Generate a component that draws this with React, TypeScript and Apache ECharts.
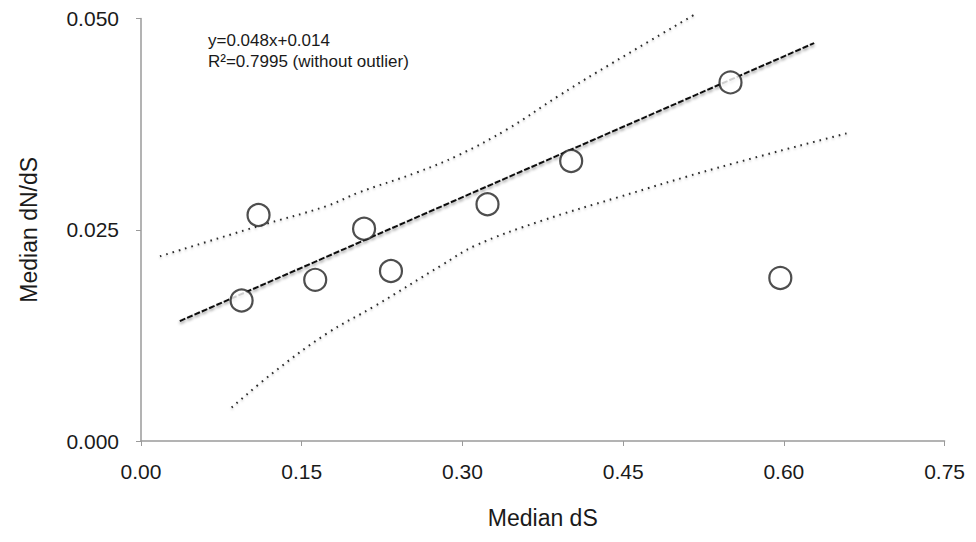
import React, { useEffect, useRef } from "react";
import * as echarts from "echarts";

// Observed points: median dS vs median dN/dS
const medianDS = [0.0939, 0.1097, 0.1626, 0.2082, 0.2333, 0.3234, 0.4015, 0.5502, 0.5967];
const medianDNDS = [0.01663, 0.02674, 0.01907, 0.02512, 0.02012, 0.02802, 0.03314, 0.04244, 0.0193];

// Regression line end points (as drawn)
const fitX = [0.0362, 0.6283];
const fitY = [0.01419, 0.04709];

// Upper confidence band
const upperX = [0.0177, 0.1106, 0.1729, 0.2035, 0.2565, 0.2965, 0.3429, 0.3894, 0.4266, 0.5167];
const upperY = [0.02186, 0.02547, 0.02779, 0.02942, 0.03174, 0.03384, 0.03698, 0.04081, 0.04372, 0.05047];

// Lower confidence band
const lowerX = [0.0846, 0.1227, 0.1729, 0.2193, 0.2807, 0.3123, 0.3736, 0.4452, 0.5381, 0.6617];
const lowerY = [0.00395, 0.00802, 0.01267, 0.01605, 0.02081, 0.02314, 0.02605, 0.02884, 0.03233, 0.03651];

const xTicks = { min: 0, max: 0.75, interval: 0.15 };
const yTicks = { min: 0, max: 0.05, interval: 0.025 };

const equationText = "y=0.048x+0.014";
const r2Text = "R²=0.7995 (without outlier)";

const zip = (xs: number[], ys: number[]) => xs.map((x, i) => [x, ys[i]]);

export default function App() {
  const ref = useRef<HTMLDivElement>(null);
  useEffect(() => {
    if (!ref.current) return;
    const chart = echarts.init(ref.current, undefined, { renderer: "svg" });
    const font = "'Liberation Sans', Arial, Helvetica, sans-serif";
    const axisLine = { show: true, lineStyle: { color: "#9a9a9a", width: 1.5 } };
    const bandStyle = {
      color: "#2a2a2a",
      width: 2,
      type: [1.6, 5],
      shadowColor: "rgba(0,0,0,0.25)",
      shadowBlur: 2,
      shadowOffsetY: 1.5,
    };
    chart.setOption({
      animation: false,
      backgroundColor: "#ffffff",
      textStyle: { fontFamily: font },
      grid: { left: 133, top: 8, right: 20, bottom: 88, containLabel: false },
      xAxis: {
        type: "value",
        min: xTicks.min,
        max: xTicks.max,
        interval: xTicks.interval,
        name: "Median dS",
        nameLocation: "middle",
        nameGap: 65,
        nameTextStyle: { fontSize: 23, color: "#1a1a1a", fontFamily: font },
        axisLine,
        axisTick: { show: true, length: 5, lineStyle: { color: "#9a9a9a" } },
        axisLabel: {
          fontSize: 21,
          color: "#1a1a1a",
          margin: 20,
          fontFamily: font,
          formatter: (v: number) => v.toFixed(2),
        },
        splitLine: { show: false },
      },
      yAxis: {
        type: "value",
        min: yTicks.min,
        max: yTicks.max,
        interval: yTicks.interval,
        name: "Median dN/dS",
        nameLocation: "middle",
        nameGap: 101,
        nameTextStyle: { fontSize: 23, color: "#1a1a1a", fontFamily: font },
        axisLine,
        axisTick: { show: true, length: 5, lineStyle: { color: "#9a9a9a" } },
        axisLabel: {
          fontSize: 21,
          color: "#1a1a1a",
          margin: 22,
          fontFamily: font,
          formatter: (v: number) => v.toFixed(3),
        },
        splitLine: { show: false },
      },
      graphic: [
        {
          type: "text",
          left: 200,
          top: 22,
          style: {
            text: equationText + "\n" + r2Text,
            fontSize: 17,
            lineHeight: 21,
            fill: "#1a1a1a",
            fontFamily: font,
          },
        },
      ],
      series: [
        {
          type: "line",
          data: zip(upperX, upperY),
          smooth: 0.4,
          showSymbol: false,
          symbol: "none",
          clip: false,
          lineStyle: bandStyle,
          z: 1,
        },
        {
          type: "line",
          data: zip(lowerX, lowerY),
          smooth: 0.4,
          showSymbol: false,
          symbol: "none",
          clip: false,
          lineStyle: bandStyle,
          z: 1,
        },
        {
          type: "line",
          data: zip(fitX, fitY),
          showSymbol: false,
          symbol: "none",
          lineStyle: {
            color: "#111",
            width: 2,
            type: [6, 2],
            shadowColor: "rgba(0,0,0,0.45)",
            shadowBlur: 3,
            shadowOffsetY: 2,
          },
          z: 2,
        },
        {
          type: "scatter",
          data: zip(medianDS, medianDNDS),
          symbol: "circle",
          symbolSize: 22,
          itemStyle: { color: "#ffffff", borderColor: "#222", borderWidth: 2.2 },
          z: 3,
        },
      ],
    });
    return () => chart.dispose();
  }, []);
  return <div ref={ref} style={{ width: 960, height: 526 }} />;
}
